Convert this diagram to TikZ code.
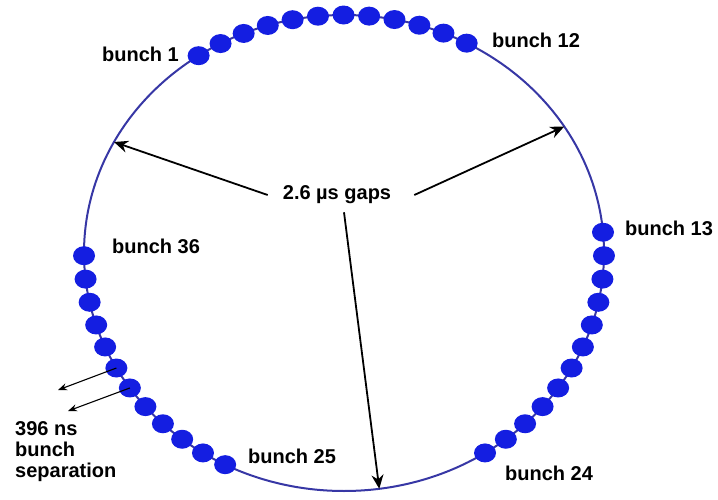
\documentclass[tikz,border=0pt]{standalone}
\usepackage{fontspec}
\setmainfont{Liberation Sans}
\usetikzlibrary{arrows.meta,shapes.geometric}

\definecolor{ringblue}{RGB}{55,55,165}
\definecolor{bunchblue}{RGB}{20,30,225}

\begin{document}
\begin{tikzpicture}[x=1pt,y=-1pt,
    lbl/.style={anchor=base west,inner sep=0pt,font=\fontsize{20}{21}\selectfont\bfseries},
    bunch/.style={ellipse,fill=bunchblue,inner sep=0pt,minimum width=22pt,minimum height=19pt},
    gaparrow/.style={-{Stealth[length=14pt,width=12pt]},line width=1.8pt},
    separrow/.style={-{Stealth[length=9pt,width=7pt]},line width=1.1pt}]

    % パラメータの定義 (y軸は下向きなので角度は符号反転)
    \pgfmathsetmacro{\rx}{260}
    \pgfmathsetmacro{\ry}{238}
    \pgfmathsetmacro{\dang}{5.65}

    \useasboundingbox (0,0) rectangle (718,500);

    \coordinate (O) at (344,253);

    % リングを描画
    \draw[ringblue,line width=2pt] (O) ellipse [x radius=\rx, y radius=\ry];

    % バンチの描画
    \foreach \s/\n in {124/1, 5/13, -117.2/25} {
        \foreach \i in {0,...,11} {
            \pgfmathsetmacro{\ang}{\dang*\i-\s}
            \pgfmathtruncatemacro{\k}{\n+\i}
            \node[bunch] (b\k) at ([shift={(O)}]\ang:{\rx} and {\ry}) {};
        }
    }

    % ラベルの描画
    \node[lbl] (l1)  at (102,62)  {bunch 1};
    \node[lbl] (l12) at (492,48)  {bunch 12};
    \node[lbl] (l13) at (625,235) {bunch 13};
    \node[lbl] (l24) at (505,480) {bunch 24};
    \node[lbl] (l25) at (248,463) {bunch 25};
    \node[lbl] (l36) at (112,253) {bunch 36};
    \node[lbl,anchor=north west,align=left] (sep) at (15,421) {396 ns\\bunch\\separation};
    \node[lbl,anchor=center,inner xsep=15pt,inner ysep=8pt] (gaps) at (337,195) {2.6 \textmu s gaps};

    % 矢印の描画
    \coordinate (gL) at ([shift={(O)}]-152.2:{\rx} and {\ry});
    \coordinate (gR) at ([shift={(O)}]-32.1:{\rx} and {\ry});
    \coordinate (gB) at ([shift={(O)}]82.2:{\rx} and {\ry});
    \draw[gaparrow] (gaps.west) -- (gL);
    \draw[gaparrow] ([xshift=8pt]gaps.east) -- (gR);
    \draw[gaparrow] ([xshift=7pt]gaps.south) -- (gB);

    \coordinate (s1) at (58,390);
    \coordinate (s2) at (68,411);
    \draw[separrow] (b31.center) -- (s1);
    \draw[separrow] (b30.center) -- (s2);

\end{tikzpicture}
\end{document}
